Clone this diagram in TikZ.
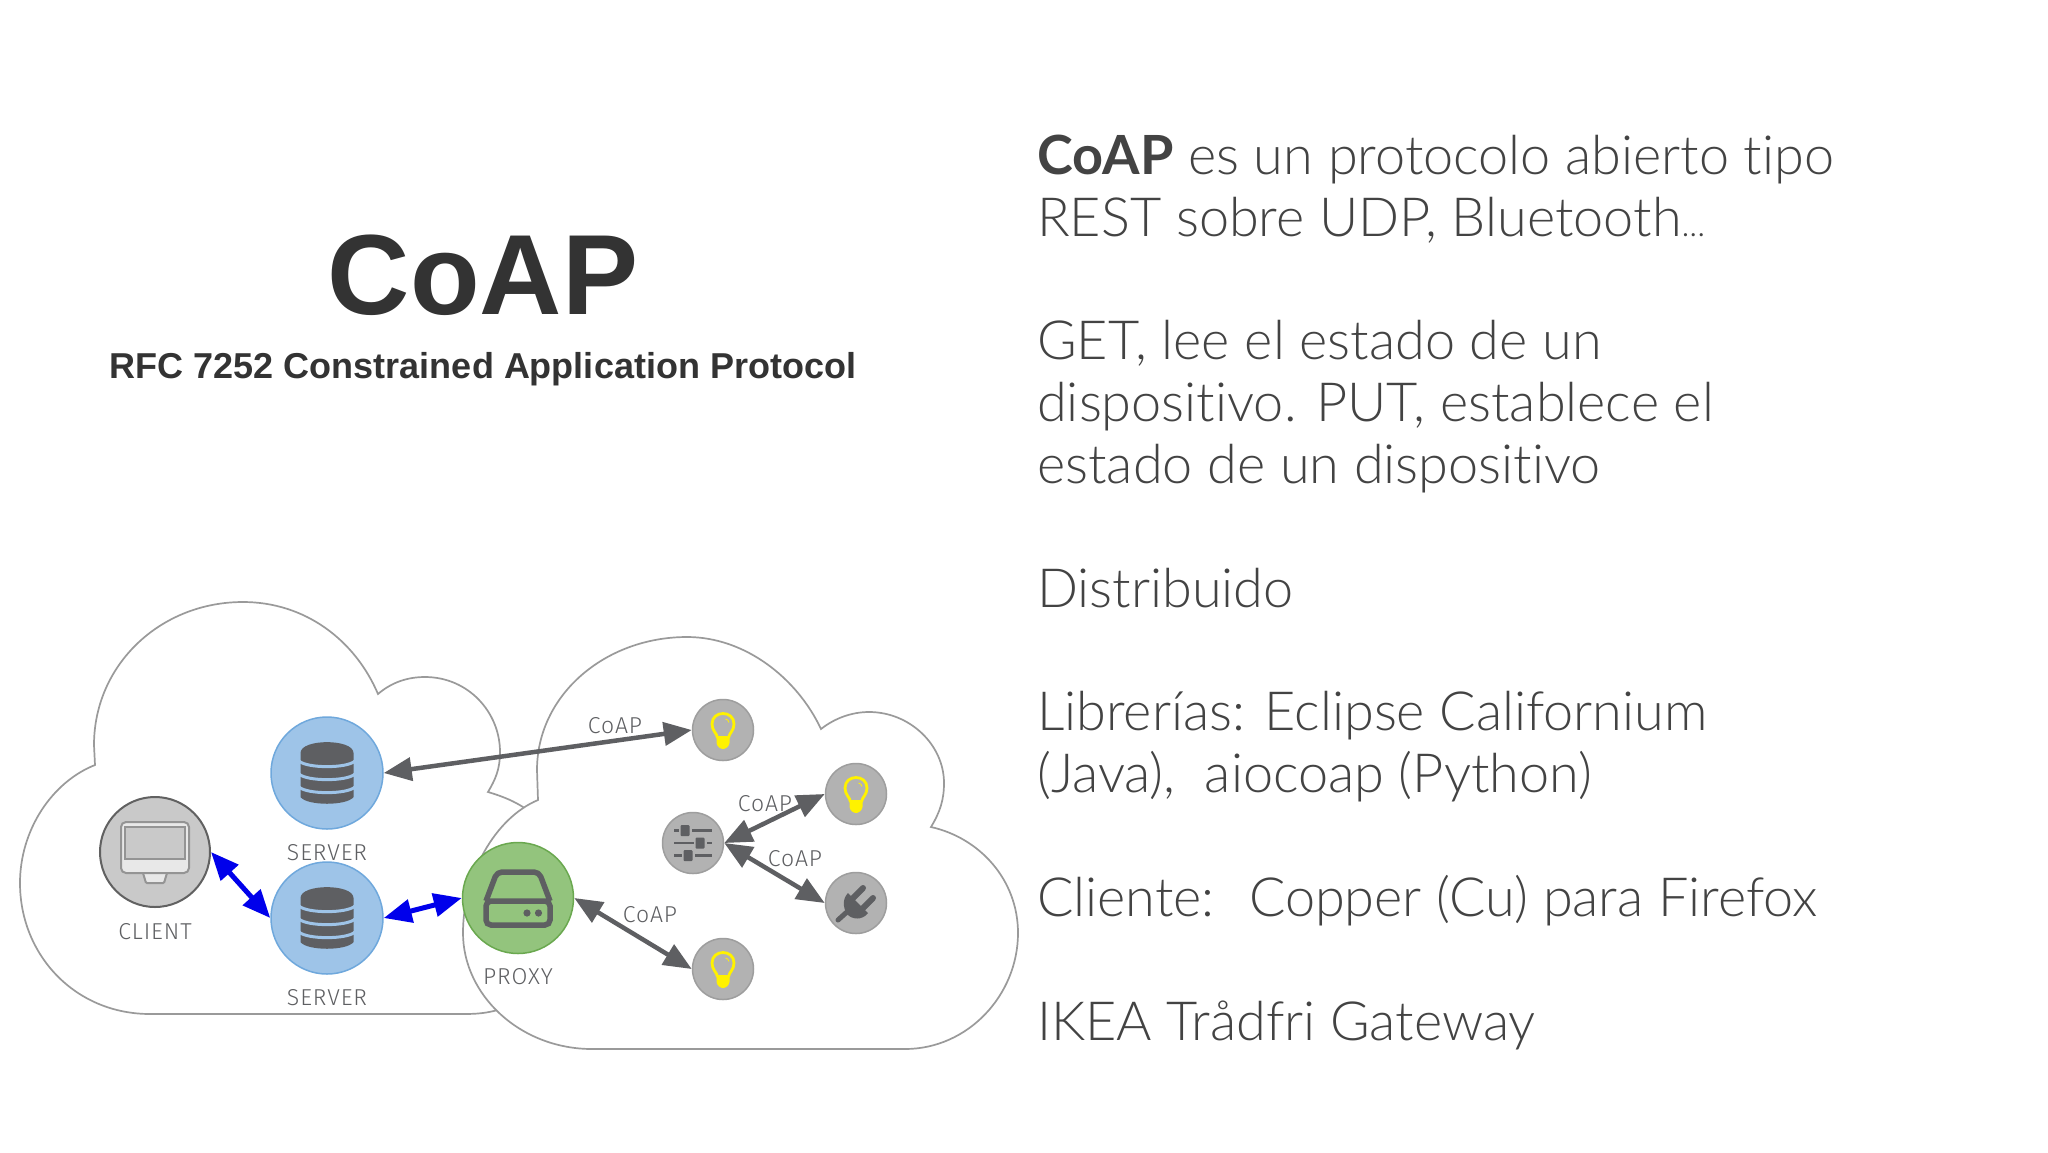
\documentclass[tikz,border=0pt]{standalone}
\usepackage{fontspec}
\usetikzlibrary{arrows.meta}
\setmainfont{Liberation Sans}
\newfontfamily\bodyfont{Lato Light}[BoldFont={Lato Bold},Ligatures=NoCommon]
\newfontfamily\labelfont{Fira Sans Light}[LetterSpace=4]
\definecolor{inkdark}{HTML}{5E5F62}
\definecolor{txt}{HTML}{434343}
\definecolor{cloudline}{HTML}{9A9A9A}
\definecolor{serverblue}{HTML}{9EC4E8}
\definecolor{serveredge}{HTML}{6FA8DC}
\definecolor{proxyfill}{HTML}{93C47D}
\definecolor{proxyedge}{HTML}{6AA84F}
\tikzset{
 cloudshape/.style={draw=cloudline,line width=1.7pt,fill=white,line join=miter},
 device/.style={circle,inner sep=0pt,minimum size=61pt,line width=1.5pt,draw=black!38,fill=black!30!white},
 serverdisc/.style={circle,inner sep=0pt,minimum size=112pt,line width=1.5pt,draw=serveredge,fill=serverblue},
 proxydisc/.style={circle,inner sep=0pt,minimum size=111pt,line width=1.5pt,draw=proxyedge,fill=proxyfill},
 clientdisc/.style={circle,inner sep=0pt,minimum size=110pt,line width=2pt,draw=black!62,fill=black!21},
 lbl/.style={font=\labelfont\fontsize{23}{26}\selectfont,text=inkdark,inner sep=0pt},
 grayarrow/.style={line width=4.5pt,draw=inkdark,{Triangle[length=28pt,width=23pt]}-{Triangle[length=28pt,width=23pt]}},
 bluearrow/.style={line width=5pt,draw=blue!92!black,{Triangle[length=28pt,width=23pt]}-{Triangle[length=28pt,width=23pt]}},
 dbicon/.pic={
  \fill[inkdark] (-26.5,-20) .. controls (-26.5,-34.5) and (26.5,-34.5) .. (26.5,-20)
    -- (26.5,24) .. controls (20,33) and (-20,33) .. (-26.5,24) -- cycle;
  \foreach \yy in {-12,1,14}{
   \draw[serverblue,line width=3pt] (-28,\yy) .. controls (-20,\yy+7.5) and (20,\yy+7.5) .. (28,\yy);}
 },
 screenicon/.pic={
  \draw[black!42,line width=2pt,fill=black!9,rounded corners=1pt] (-12,21) -- (-9,31) -- (9,31) -- (12,21);
  \draw[black!42,line width=2pt,fill=black!9,rounded corners=5pt] (-34,-30) rectangle (34,21);
  \draw[black!42,line width=2pt,fill=black!21] (-30,-25) rectangle (30,7);
 },
 driveicon/.pic={
  \draw[inkdark,line width=5.5pt,line join=round,rounded corners=5pt] (-32,3) -- (-21,-26) -- (21,-26) -- (32,3);
  \draw[inkdark,line width=5.5pt,rounded corners=5pt] (-32,3) rectangle (32,27);
  \fill[inkdark] (9,15) circle (3.6) (20.5,15) circle (3.6);
 },
 bulbicon/.pic={
  \draw[yellow,line width=2.8pt] (-5.5,8) .. controls (-6,3) and (-11,1) .. (-11,-6)
    .. controls (-11,-20) and (11,-20) .. (11,-6) .. controls (11,1) and (6,3) .. (5.5,8);
  \fill[yellow] (-6.5,6) -- (6.5,6) -- (6.5,13) .. controls (6,17) and (2,19) .. (0,19) .. controls (-2,19) and (-6,17) .. (-6.5,13) -- cycle;
  \draw[yellow,line width=.8pt] (2.5,-11) .. controls (4.5,-10.5) and (5.5,-9.5) .. (6,-7.5);
 },
 slidericon/.pic={
  \foreach \yy/\kx in {-12.5/-8,0/7,12.5/-5}{
   \draw[inkdark,line width=2.6pt] (-19,\yy) -- (19,\yy);
   \fill[black!30!white] (\kx-6.5,\yy-5) rectangle (\kx+6.5,\yy+5);
   \fill[inkdark,rounded corners=1pt] (\kx-4.5,\yy-5.5) rectangle (\kx+4.5,\yy+5.5);}
 },
 plugicon/.pic={
  \draw[inkdark,line width=5pt,line cap=round] (-8,8) -- (-18,17);
  \draw[inkdark,line width=6pt,line cap=round] (-3,-5) -- (7,-15) (7,5) -- (17,-5);
  \fill[inkdark] (-8,-10) -- (12,10) .. controls (6,18) and (-4,16) .. (-8,12) .. controls (-12,8) and (-15,-3) .. (-8,-10) -- cycle;
 }
}
\begin{document}
\begin{tikzpicture}[x=1pt,y=-1pt]
\useasboundingbox (0,0) rectangle (2048,1152);
\fill[white] (0,0) rectangle (2048,1152);
% titles
\node[font=\bfseries\fontsize{114}{120}\selectfont,text=black!80,inner sep=0pt,anchor=base] (title) at (483,314) {CoAP};
\node[font=\bfseries\fontsize{36}{40}\selectfont,text=black!80,inner sep=0pt,anchor=base] (subtitle) at (483,378) {RFC 7252 Constrained Application Protocol};
% clouds
\draw[cloudshape] (95,765) -- (94,745) .. controls (94,665) and (160,602) .. (243,602)
  .. controls (305,602) and (355,640) .. (378,694) .. controls (392,682) and (408,677) .. (425,677)
  .. controls (468,677) and (500,712) .. (500,752) .. controls (500,770) and (495,780) .. (488,792)
  .. controls (505,797) and (515,802) .. (523,807) .. controls (565,835) and (565,1000) .. (498,1010)
  .. controls (486,1013) and (478,1014) .. (464,1014) -- (150,1014)
  .. controls (75,1014) and (20,955) .. (20,883) .. controls (20,830) and (52,782) .. (95,765) -- cycle;
\draw[cloudshape] (538,800) -- (537,770) .. controls (537,695) and (605,637) .. (687,637)
  .. controls (745,637) and (797,678) .. (821,729) .. controls (835,718) and (852,712) .. (869,712)
  .. controls (910,712) and (944,745) .. (944,783) .. controls (944,800) and (940,812) .. (931,827)
  .. controls (980,838) and (1018,880) .. (1018,933) .. controls (1018,995) and (968,1049) .. (905,1049)
  -- (592,1049) .. controls (520,1049) and (463,995) .. (463,933) .. controls (463,875) and (495,818) .. (538,800) -- cycle;
% discs
\node[serverdisc] (server1) at (327,773) {};
\node[serverdisc] (server2) at (327,918) {};
\node[clientdisc] (client) at (155,852) {};
\node[proxydisc] (proxy) at (518,898) {};
\node[device] (bulb1) at (723,730) {};
\node[device] (bulb2) at (856,794) {};
\node[device] (plug) at (856,903) {};
\node[device] (bulb3) at (723,969) {};
\node[device] (sliders) at (693,843) {};
% icons
\pic at (server1) {dbicon};
\pic at (server2) {dbicon};
\pic at (client) {screenicon};
\pic at (proxy) {driveicon};
\pic at (bulb1) {bulbicon};
\pic at (bulb2) {bulbicon};
\pic at (bulb3) {bulbicon};
\pic at (plug) {plugicon};
\pic at (sliders) {slidericon};
% connectors
\draw[grayarrow] (server1.east) -- (bulb1.west);
\draw[grayarrow] (sliders.east) -- (bulb2.west);
\draw[grayarrow] (sliders.east) -- (plug.west);
\draw[grayarrow] (proxy.east) -- (bulb3.west);
\draw[bluearrow] (client.east) -- (server2.west);
\draw[bluearrow] (server2.east) -- (proxy.west);
% labels
\node[lbl] (l1) at (327,853) {SERVER};
\node[lbl] (l2) at (327,998) {SERVER};
\node[lbl] (l3) at (155,932) {CLIENT};
\node[lbl] (l4) at (518,977) {PROXY};
\node[lbl] (c1) at (615,726) {CoAP};
\node[lbl] (c2) at (765,804) {CoAP};
\node[lbl] (c3) at (795,859) {CoAP};
\node[lbl] (c4) at (650,915) {CoAP};
% body text
\node[anchor=north west,inner sep=0pt,align=left,text=txt,font=\bodyfont\fontsize{54}{61.85}\selectfont] (body) at (1037,134.5) {%
\textbf{CoAP} es un protocolo abierto tipo\\
REST sobre UDP, Bluetooth{\fontsize{34}{34}\selectfont...}\\[61.85pt]
GET, lee el estado de un\\
dispositivo. PUT, establece el\\
estado de un dispositivo\\[61.85pt]
Distribuido\\[61.85pt]
Librerías: Eclipse Californium\\
(Java),~ aiocoap (Python)\\[61.85pt]
Cliente:~ Copper (Cu) para Firefox\\[61.85pt]
IKEA Trådfri Gateway};
\end{tikzpicture}
\end{document}
